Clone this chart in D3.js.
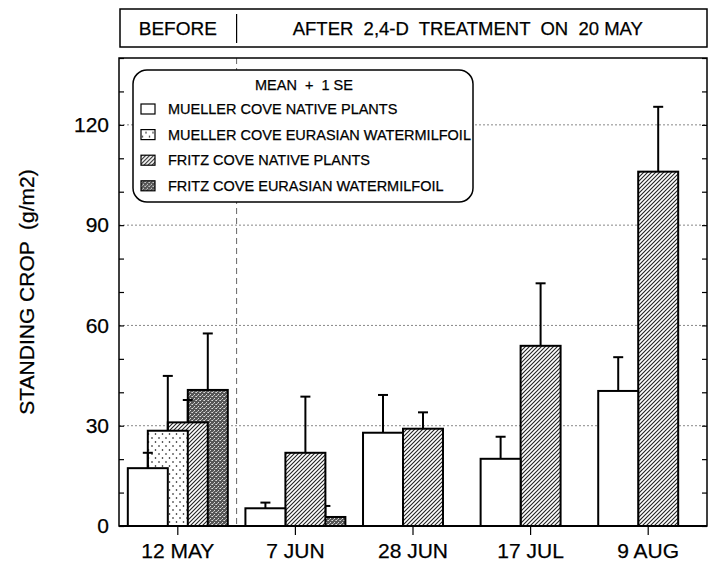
<!DOCTYPE html>
<html>
<head>
<meta charset="utf-8">
<script src="https://cdn.jsdelivr.net/npm/d3@7"></script>
<style>
  body { margin: 0; background: #fff; }
  svg text { font-family: "Liberation Sans", Arial, Helvetica, sans-serif; fill: #000; white-space: pre; stroke: #000; stroke-width: 0.25px; }
</style>
</head>
<body>
<svg id="chart" width="715" height="565"></svg>
<script>
// data (g/m2), null = no bar
const dates = ["12 MAY", "7 JUN", "28 JUN", "17 JUL", "9 AUG"];
const seriesNames = [
  "MUELLER COVE NATIVE PLANTS",
  "MUELLER COVE EURASIAN WATERMILFOIL",
  "FRITZ COVE NATIVE PLANTS",
  "FRITZ COVE EURASIAN WATERMILFOIL"
];
const muellerNative    = [17.3, 5.3, 27.9, 20.1, 40.4];
const muellerNativeSE  = [4.6, 1.7, 11.3, 6.6, 10.1];
const muellerMilfoil   = [28.5, null, null, null, null];
const muellerMilfoilSE = [16.4, null, null, null, null];
const fritzNative      = [31.0, 21.9, 29.1, 53.9, 106.0];
const fritzNativeSE    = [6.7, 16.8, 4.9, 18.7, 19.4];
const fritzMilfoil     = [40.7, 2.7, null, null, null];
const fritzMilfoilSE   = [16.9, 3.3, null, null, null];
const yTicks = [0, 30, 60, 90, 120];
const bannerBefore = "BEFORE";
const bannerAfter = "AFTER  2,4-D  TREATMENT  ON  20 MAY";
const legendTitle = "MEAN  +  1 SE";
const yTitle = "STANDING CROP  (g/m2)";

const means = [muellerNative, muellerMilfoil, fritzNative, fritzMilfoil];
const ses = [muellerNativeSE, muellerMilfoilSE, fritzNativeSE, fritzMilfoilSE];
const fills = ["#fff", "url(#dots)", "url(#hatch)", "url(#stipple)"];

const svg = d3.select("#chart");
const plotL = 119, plotR = 707, plotT = 58, plotB = 526;

const x = d3.scaleBand().domain(dates).range([plotL, plotR]).padding(0);
const y = d3.scaleLinear().domain([0, 140]).range([plotB, plotT]);
const barW = x.bandwidth() * 0.34;

// fill patterns
const defs = svg.append("defs");
const dots = defs.append("pattern").attr("id", "dots").attr("patternUnits", "userSpaceOnUse")
  .attr("width", 7).attr("height", 8);
dots.append("rect").attr("width", 7).attr("height", 8).attr("fill", "#fff");
dots.append("circle").attr("cx", 1.5).attr("cy", 2).attr("r", 0.8).attr("fill", "#000");
dots.append("circle").attr("cx", 5).attr("cy", 6).attr("r", 0.8).attr("fill", "#000");

const hatch = defs.append("pattern").attr("id", "hatch").attr("patternUnits", "userSpaceOnUse")
  .attr("width", 4).attr("height", 4);
hatch.append("rect").attr("width", 4).attr("height", 4).attr("fill", "#fff");
hatch.append("path").attr("d", "M-1,1 l2,-2 M0,4 l4,-4 M3,5 l2,-2")
  .attr("stroke", "#222").attr("stroke-width", 1.1);

const stip = defs.append("pattern").attr("id", "stipple").attr("patternUnits", "userSpaceOnUse")
  .attr("width", 4).attr("height", 4);
stip.append("rect").attr("width", 4).attr("height", 4).attr("fill", "#555");
stip.append("rect").attr("x", 0).attr("y", 0).attr("width", 1).attr("height", 1).attr("fill", "#ddd");
stip.append("rect").attr("x", 2).attr("y", 2).attr("width", 1).attr("height", 1).attr("fill", "#ddd");
stip.append("rect").attr("x", 3).attr("y", 0).attr("width", 1).attr("height", 1).attr("fill", "#aaa");
stip.append("rect").attr("x", 1).attr("y", 3).attr("width", 1).attr("height", 1).attr("fill", "#aaa");

// gridlines
svg.append("g").selectAll("line").data(yTicks.filter(d => d > 0)).join("line")
  .attr("x1", plotL).attr("x2", plotR)
  .attr("y1", d => y(d)).attr("y2", d => y(d))
  .attr("stroke", "#888").attr("stroke-width", 1).attr("stroke-dasharray", "2,2");

// before / after divider
svg.append("line")
  .attr("x1", x(dates[1])).attr("x2", x(dates[1]))
  .attr("y1", plotT).attr("y2", plotB)
  .attr("stroke", "#666").attr("stroke-width", 1).attr("stroke-dasharray", "6,4");

// bars: last series at the back, first series in front
const bars = svg.append("g");
[3, 2, 1, 0].forEach(s => {
  dates.forEach((d, i) => {
    const v = means[s][i];
    if (v == null) return;
    const x0 = x(d) + x.bandwidth() / 2 - 1.25 * barW + s * barW / 2;
    bars.append("rect")
      .attr("x", x0).attr("y", y(v))
      .attr("width", barW).attr("height", y(0) - y(v))
      .attr("fill", fills[s]).attr("stroke", "#000").attr("stroke-width", 2);
    const se = ses[s][i];
    if (se != null) {
      const cx = x0 + barW / 2;
      bars.append("line").attr("x1", cx).attr("x2", cx)
        .attr("y1", y(v)).attr("y2", y(v + se))
        .attr("stroke", "#000").attr("stroke-width", 2);
      bars.append("line").attr("x1", cx - 5).attr("x2", cx + 5)
        .attr("y1", y(v + se)).attr("y2", y(v + se))
        .attr("stroke", "#000").attr("stroke-width", 2);
    }
  });
});

// axes
const yAxis = svg.append("g").attr("transform", `translate(${plotL},0)`)
  .call(d3.axisLeft(y).tickValues(d3.range(0, 141, 10)).tickSize(-5).tickPadding(10)
    .tickFormat(d => yTicks.includes(d) ? d : ""));
yAxis.select(".domain").remove();
yAxis.selectAll("text").attr("font-size", 21);
yAxis.selectAll("line").attr("stroke-width", 1.2);

const yAxisR = svg.append("g").attr("transform", `translate(${plotR},0)`)
  .call(d3.axisRight(y).tickValues(d3.range(0, 141, 10)).tickSize(-5).tickFormat(""));
yAxisR.select(".domain").remove();
yAxisR.selectAll("line").attr("stroke-width", 1.2);

const xAxis = svg.append("g").attr("transform", `translate(0,${plotB})`)
  .call(d3.axisBottom(x).tickSize(9).tickPadding(8));
xAxis.select(".domain").remove();
xAxis.selectAll("text").attr("font-size", 21);
xAxis.selectAll("line").attr("stroke-width", 1.2);
[yAxis, yAxisR, xAxis].forEach(a => a.attr("font-family", null).attr("font-size", null));

// frame
svg.append("rect").attr("x", plotL).attr("y", plotT)
  .attr("width", plotR - plotL).attr("height", plotB - plotT)
  .attr("fill", "none").attr("stroke", "#000").attr("stroke-width", 1.5);
svg.append("line").attr("x1", plotL).attr("x2", plotR).attr("y1", plotB).attr("y2", plotB)
  .attr("stroke", "#000").attr("stroke-width", 2);

// y title
svg.append("text")
  .attr("transform", `translate(34,${(plotT + plotB) / 2}) rotate(-90)`)
  .attr("text-anchor", "middle").attr("font-size", 21)
  .text(yTitle);

// banner
const bTop = 9, bBot = 47;
svg.append("rect").attr("x", plotL + 1).attr("y", bTop)
  .attr("width", plotR - plotL - 1).attr("height", bBot - bTop)
  .attr("fill", "none").attr("stroke", "#000").attr("stroke-width", 1.5);
svg.append("line").attr("x1", x(dates[1])).attr("x2", x(dates[1]))
  .attr("y1", bTop + 5).attr("y2", bBot - 4)
  .attr("stroke", "#000").attr("stroke-width", 1.2);
svg.append("text").attr("x", (plotL + x(dates[1])) / 2).attr("y", 35)
  .attr("text-anchor", "middle").attr("font-size", 19).text(bannerBefore);
svg.append("text").attr("x", (x(dates[1]) + plotR) / 2 - 4).attr("y", 35)
  .attr("text-anchor", "middle").attr("font-size", 18.5).text(bannerAfter);

// legend
const lg = svg.append("g");
lg.append("rect").attr("x", 133).attr("y", 70).attr("width", 340).attr("height", 132)
  .attr("rx", 14).attr("ry", 14)
  .attr("fill", "#fff").attr("stroke", "#000").attr("stroke-width", 1.5);
lg.append("text").attr("x", 304).attr("y", 90).attr("text-anchor", "middle")
  .attr("font-size", 14.5).text(legendTitle);
const rows = lg.selectAll("g.row").data(seriesNames).join("g")
  .attr("class", "row")
  .attr("transform", (d, i) => `translate(141,${109 + i * 25.6})`);
rows.append("rect").attr("x", 0).attr("y", -5).attr("width", 14).attr("height", 10)
  .attr("fill", (d, i) => fills[i]).attr("stroke", "#000").attr("stroke-width", 1.2);
rows.append("text").attr("x", 27).attr("y", 5).attr("font-size", 14.5).text(d => d);
</script>
</body>
</html>
